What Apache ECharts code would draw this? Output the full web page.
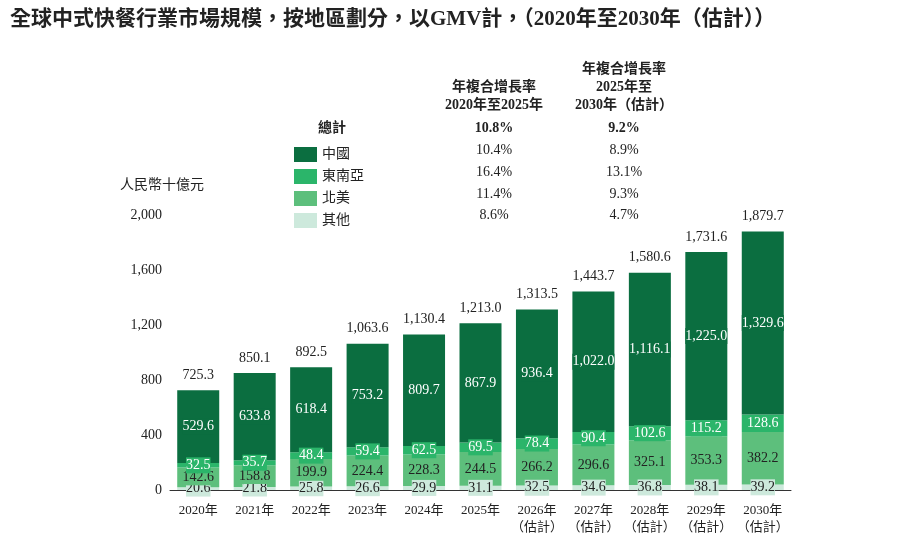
<!DOCTYPE html>
<html><head><meta charset="utf-8">
<script src="https://cdn.jsdelivr.net/npm/echarts@6/dist/echarts.min.js"></script>
<style>html,body{margin:0;background:#fff}#c{width:900px;height:541px}</style>
</head><body><div id="c"></div>
<script>
var years = ['2020年','2021年','2022年','2023年','2024年','2025年','2026年\n（估計）','2027年\n（估計）','2028年\n（估計）','2029年\n（估計）','2030年\n（估計）'];
var other = [20.6,21.8,25.8,26.6,29.9,31.1,32.5,34.6,36.8,38.1,39.2];
var northAmerica = [142.6,158.8,199.9,224.4,228.3,244.5,266.2,296.6,325.1,353.3,382.2];
var seAsia = [32.5,35.7,48.4,59.4,62.5,69.5,78.4,90.4,102.6,115.2,128.6];
var china = [529.6,633.8,618.4,753.2,809.7,867.9,936.4,1022.0,1116.1,1225.0,1329.6];
var totals = [725.3,850.1,892.5,1063.6,1130.4,1213.0,1313.5,1443.7,1580.6,1731.6,1879.7];
var cagr1 = ['10.8%','10.4%','16.4%','11.4%','8.6%'];
var cagr2 = ['9.2%','8.9%','13.1%','9.3%','4.7%'];

var FONT = '"Liberation Serif","Noto Sans CJK TC",serif';
var colors = {china:'#0b6e40', sea:'#2bb56a', na:'#5dbf7c', other:'#cde9dc'};
function fmt(v){ return v.toLocaleString('en-US',{minimumFractionDigits:1,maximumFractionDigits:1}); }
function fmtInt(v){ return v.toLocaleString('en-US'); }

function seg(name, data, color, textColor, pos){
  return {
    name: name, type: 'bar', stack: 'a', data: data, barWidth: 42,
    itemStyle: {color: color},
    label: {show: true, position: pos || 'inside', color: textColor, fontFamily: FONT, fontSize: 14,
      backgroundColor: color, padding: [1,0],
      formatter: function(p){ return fmt(p.value); }}
  };
}

var series = [
  seg('其他', other, colors.other, '#222', 'inside'),
  seg('北美', northAmerica, colors.na, '#222'),
  seg('東南亞', seAsia, colors.sea, '#fff'),
  seg('中國', china, colors.china, '#fff'),
  {name:'total', type:'bar', stack:'a', data: totals.map(function(){return 0;}), barWidth:42,
   label:{show:true, position:'top', distance:8, color:'#222', fontFamily:FONT, fontSize:14,
     formatter:function(p){ return fmt(totals[p.dataIndex]); }}, tooltip:{show:false}}
];

var graphics = [
  {type:'text', left:10, top:9, style:{text:'全球中式快餐行業市場規模，按地區劃分，以GMV計，（2020年至2030年（估計））', font:'bold 21px '+FONT, fill:'#222'}},
  {type:'text', left:120, top:178, style:{text:'人民幣十億元', font:'14px '+FONT, fill:'#222'}},
  {type:'text', x:494, y:78, style:{text:'年複合增長率\n2020年至2025年', font:'bold 14px '+FONT, fill:'#222', align:'center', lineHeight:18}},
  {type:'text', x:624, y:60, style:{text:'年複合增長率\n2025年至\n2030年（估計）', font:'bold 14px '+FONT, fill:'#222', align:'center', lineHeight:18}},
  {type:'text', x:318, y:121, style:{text:'總計', font:'bold 14px '+FONT, fill:'#222'}}
];
var rowY = [121,143,165,187,208];
for (var i = 0; i < cagr1.length; i++) {
  graphics.push({type:'text', x:494, y:rowY[i], style:{text:cagr1[i], font:(i===0?'bold ':'')+'14px '+FONT, fill:'#222', align:'center'}});
  graphics.push({type:'text', x:624, y:rowY[i], style:{text:cagr2[i], font:(i===0?'bold ':'')+'14px '+FONT, fill:'#222', align:'center'}});
}

var chart = echarts.init(document.getElementById('c'));
chart.setOption({
  animation: false,
  grid: {left: 170, right: 109, top: 215, bottom: 51},
  legend: {
    data: ['中國','東南亞','北美','其他'], orient: 'vertical', left: 289, top: 142,
    itemWidth: 23, itemHeight: 15, itemGap: 7, icon: 'rect',
    textStyle: {fontFamily: FONT, fontSize: 14, color: '#222'}
  },
  xAxis: {type: 'category', data: years,
    axisLine: {lineStyle: {color: '#333'}}, axisTick: {show: false},
    axisLabel: {interval: 0, hideOverlap: false, fontFamily: FONT, fontSize: 13, color: '#222', margin: 12, lineHeight: 17}},
  yAxis: {type: 'value', min: 0, max: 2000, interval: 400,
    axisLine: {show: false}, axisTick: {show: false}, splitLine: {show: false},
    axisLabel: {fontFamily: FONT, fontSize: 14, color: '#222', formatter: fmtInt}},
  graphic: graphics,
  series: series
});
</script></body></html>
